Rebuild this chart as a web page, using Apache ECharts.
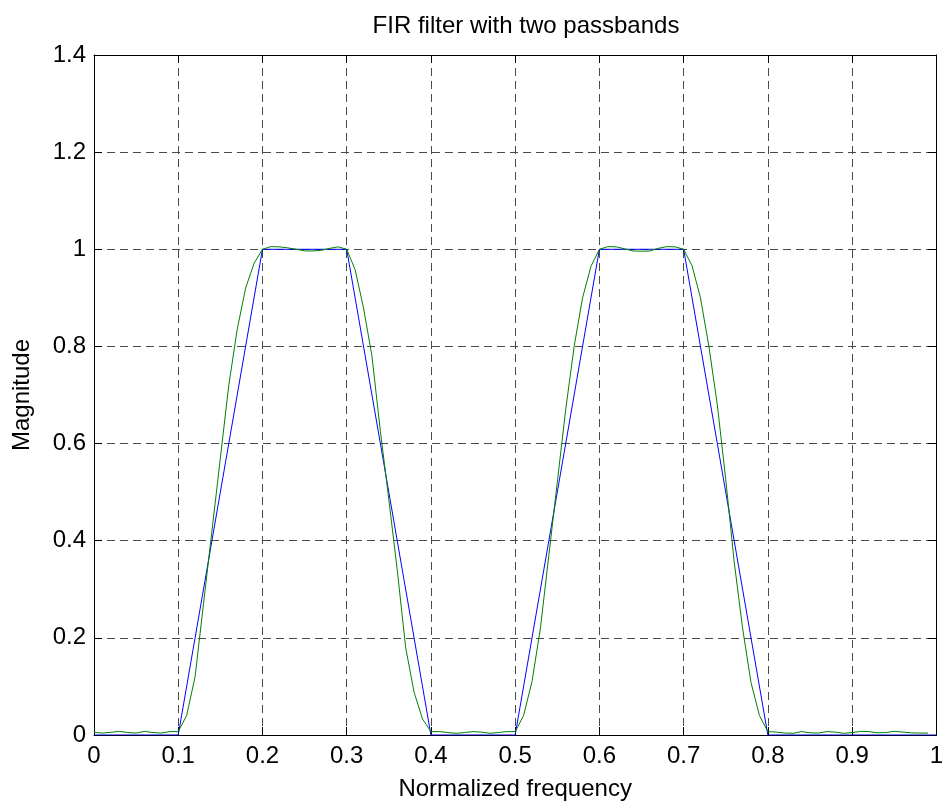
<!DOCTYPE html>
<html>
<head>
<meta charset="utf-8">
<title>FIR filter with two passbands</title>
<script src="https://cdn.jsdelivr.net/npm/echarts@6/dist/echarts.min.js"></script>
<style>
  html, body { margin: 0; padding: 0; background: #fff; }
  #chart { width: 946px; height: 806px; }
</style>
</head>
<body>
<div id="chart"></div>
<script>
// Ideal (desired) response: band edges and target magnitudes
const bandEdges = [0, 0.1, 0.2, 0.3, 0.4, 0.5, 0.6, 0.7, 0.8, 1];
const desiredMag = [0, 0, 1, 1, 0, 0, 1, 1, 0, 0];

// Actual response sampled on the normalized frequency grid
const freqSamples = [
  0.00, 0.01, 0.02, 0.03, 0.04, 0.05, 0.06, 0.07, 0.08, 0.09,
  0.10, 0.11, 0.12, 0.13, 0.14, 0.15, 0.16, 0.17, 0.18, 0.19,
  0.20, 0.21, 0.22, 0.23, 0.24, 0.25, 0.26, 0.27, 0.28, 0.29,
  0.30, 0.31, 0.32, 0.33, 0.34, 0.35, 0.36, 0.37, 0.38, 0.39,
  0.40, 0.41, 0.42, 0.43, 0.44, 0.45, 0.46, 0.47, 0.48, 0.49,
  0.50, 0.51, 0.52, 0.53, 0.54, 0.55, 0.56, 0.57, 0.58, 0.59,
  0.60, 0.61, 0.62, 0.63, 0.64, 0.65, 0.66, 0.67, 0.68, 0.69,
  0.70, 0.71, 0.72, 0.73, 0.74, 0.75, 0.76, 0.77, 0.78, 0.79,
  0.80, 0.81, 0.82, 0.83, 0.84, 0.85, 0.86, 0.87, 0.88, 0.89,
  0.90, 0.91, 0.92, 0.93, 0.94, 0.95, 0.96, 0.97, 0.98, 0.99
];
const actualMag = [
  0.0055, 0.004, 0.0055, 0.0075, 0.005, 0.004, 0.0075, 0.005, 0.004, 0.007,
  0.007, 0.04, 0.12, 0.27, 0.42, 0.57, 0.72, 0.835, 0.92, 0.971,
  1.0, 1.0055, 1.005, 1.003, 1.0, 0.9966, 0.9966, 0.998, 1.002, 1.005,
  1.0, 0.958, 0.879, 0.78, 0.625, 0.485, 0.34, 0.18, 0.088, 0.033,
  0.007, 0.007, 0.005, 0.0035, 0.005, 0.007, 0.006, 0.0035, 0.005, 0.007,
  0.007, 0.04, 0.11, 0.22, 0.37, 0.52, 0.67, 0.80, 0.90, 0.965,
  1.0, 1.0055, 1.005, 1.001, 0.9966, 0.996, 0.9966, 1.002, 1.0055, 1.005,
  1.0, 0.966, 0.90, 0.80, 0.68, 0.526, 0.357, 0.22, 0.108, 0.04,
  0.007, 0.006, 0.004, 0.0035, 0.007, 0.0045, 0.004, 0.007, 0.006, 0.0035,
  0.005, 0.0075, 0.007, 0.0045, 0.005, 0.0075, 0.006, 0.0045, 0.004, 0.004
];

// Tick labels
const xTickLabels = ['0', '0.1', '0.2', '0.3', '0.4', '0.5', '0.6', '0.7', '0.8', '0.9', '1'];
const yTickLabels = ['0', '0.2', '0.4', '0.6', '0.8', '1', '1.2', '1.4'];

const FONT = '"Liberation Sans", Arial, Helvetica, sans-serif';

const chart = echarts.init(document.getElementById('chart'), null, { renderer: 'canvas' });

const gridDash = { color: '#4a4a4a', width: 1, type: [8, 5] };
const frameLine = { show: true, onZero: false, lineStyle: { color: '#000', width: 1 } };
const innerTick = { show: true, inside: true, length: 8, lineStyle: { color: '#000', width: 1 } };

const option = {
  animation: false,
  backgroundColor: '#fff',
  title: {
    text: 'FIR filter with two passbands',
    left: 521,
    top: 9,
    textAlign: 'center',
    textStyle: { fontFamily: FONT, fontSize: 24, fontWeight: 'normal', color: '#000' }
  },
  grid: { left: 94, top: 55, width: 844, height: 681, containLabel: false },
  xAxis: [
    {
      type: 'value', min: 0, max: 1, interval: 0.1, position: 'bottom',
      axisLine: frameLine, axisTick: innerTick,
      axisLabel: {
        fontFamily: FONT, fontSize: 24, color: '#000', margin: 9,
        formatter: (v) => xTickLabels[Math.round(v * 10)]
      },
      splitLine: { show: true, lineStyle: gridDash },
      name: 'Normalized frequency', nameLocation: 'middle', nameGap: 42,
      nameTextStyle: { fontFamily: FONT, fontSize: 24, color: '#000' }
    },
    {
      type: 'value', min: 0, max: 1, interval: 0.1, position: 'top',
      axisLine: frameLine, axisTick: innerTick,
      axisLabel: { show: false }, splitLine: { show: false }
    }
  ],
  yAxis: [
    {
      type: 'value', min: 0, max: 1.4, interval: 0.2, position: 'left',
      axisLine: frameLine, axisTick: innerTick,
      axisLabel: {
        fontFamily: FONT, fontSize: 24, color: '#000', margin: 8,
        formatter: (v) => yTickLabels[Math.round(v * 5)]
      },
      splitLine: { show: true, lineStyle: gridDash },
      name: 'Magnitude', nameLocation: 'middle', nameGap: 60,
      nameTextStyle: { fontFamily: FONT, fontSize: 24, color: '#000' }
    },
    {
      type: 'value', min: 0, max: 1.4, interval: 0.2, position: 'right',
      axisLine: frameLine, axisTick: innerTick,
      axisLabel: { show: false }, splitLine: { show: false }
    }
  ],
  series: [
    {
      name: 'Desired',
      type: 'line',
      xAxisIndex: 0, yAxisIndex: 0,
      data: bandEdges.map((f, i) => [f, desiredMag[i]]),
      showSymbol: false,
      lineStyle: { color: '#0000ff', width: 1 },
      z: 5
    },
    {
      name: 'Actual',
      type: 'line',
      xAxisIndex: 0, yAxisIndex: 0,
      data: freqSamples.map((f, i) => [f, actualMag[i]]),
      showSymbol: false,
      lineStyle: { color: '#008000', width: 1 },
      z: 6
    }
  ]
};

chart.setOption(option);
</script>
</body>
</html>
